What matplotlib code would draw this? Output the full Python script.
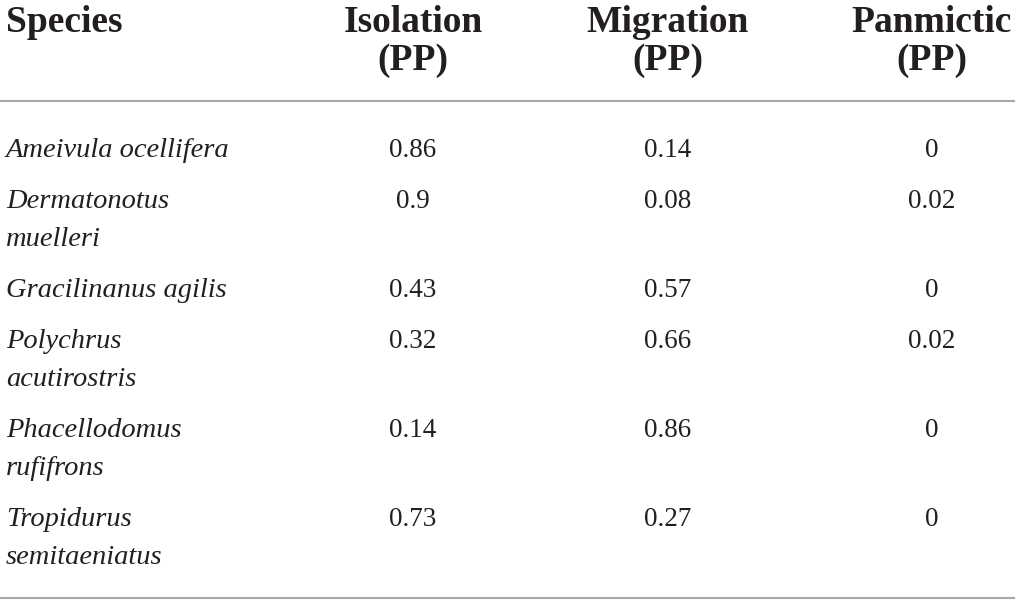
import matplotlib.pyplot as plt

# Table data
headers = ['Species', 'Isolation\n(PP)', 'Migration\n(PP)', 'Panmictic\n(PP)']
species = ['Ameivula ocellifera', 'Dermatonotus\nmuelleri', 'Gracilinanus agilis',
           'Polychrus\nacutirostris', 'Phacellodomus\nrufifrons', 'Tropidurus\nsemitaeniatus']
isolation = ['0.86', '0.9', '0.43', '0.32', '0.14', '0.73']
migration = ['0.14', '0.08', '0.57', '0.66', '0.86', '0.27']
panmictic = ['0', '0.02', '0', '0.02', '0', '0']

# Layout (pixels)
W, H = 1018, 605
col_x = [6, 413, 668, 932]
line_gap = 38
row_gap = 51
ink = '#231f20'
rule = '#a8a8a8'

fig = plt.figure(figsize=(W / 100, H / 100), dpi=100)
ax = fig.add_axes([0, 0, 1, 1])
ax.set_xlim(0, W)
ax.set_ylim(H, 0)
ax.axis('off')

font = ['Liberation Serif', 'DejaVu Serif']

# Header
for i, h in enumerate(headers):
    for j, part in enumerate(h.split('\n')):
        ax.text(col_x[i], 32 + j * line_gap, part, ha='left' if i == 0 else 'center',
                va='baseline', fontsize=27, fontweight='bold', family=font, color=ink)

ax.plot([0, 1014], [101, 101], color=rule, lw=1.5)

# Body
y = 157
for k in range(len(species)):
    lines = species[k].split('\n')
    for j, part in enumerate(lines):
        ax.text(col_x[0], y + j * line_gap, part, ha='left', va='baseline',
                fontsize=20.5, style='italic', family=font, color=ink)
    for i, col in enumerate([isolation, migration, panmictic]):
        ax.text(col_x[i + 1], y, col[k], ha='center', va='baseline',
                fontsize=19.5, family=font, color=ink)
    y += row_gap + line_gap * (len(lines) - 1)

ax.plot([0, 1014], [598, 598], color=rule, lw=1.5)

fig.savefig('out.png', dpi=100)
